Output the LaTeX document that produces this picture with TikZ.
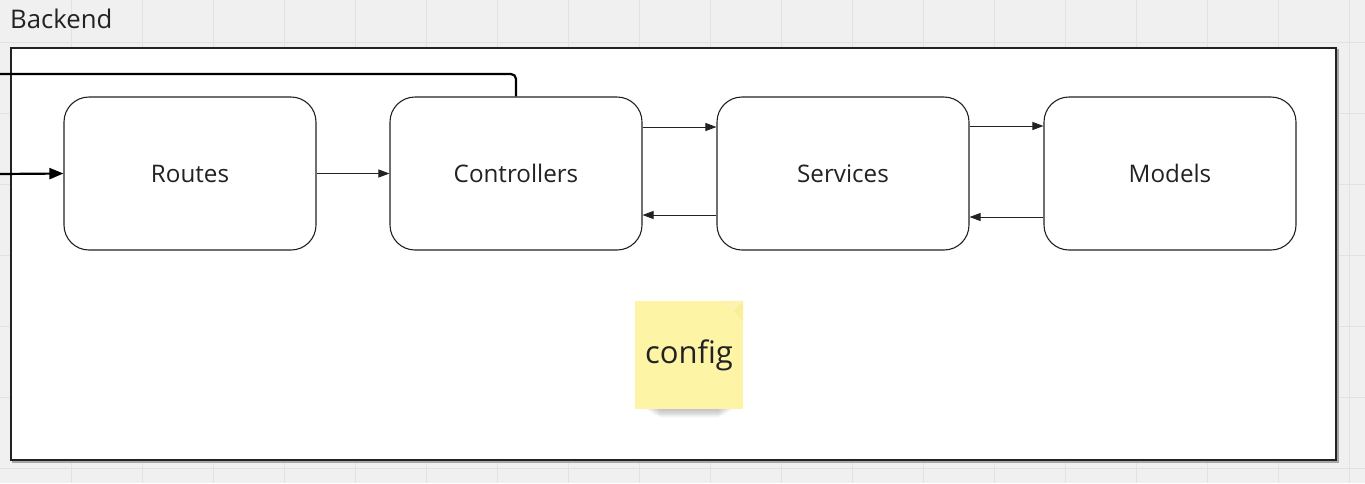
\documentclass[tikz,border=0pt]{standalone}
\usepackage{fontspec}
\setmainfont{Open Sans}
\usetikzlibrary{arrows.meta}
\definecolor{bgc}{HTML}{F0F0F0}
\definecolor{gridc}{HTML}{E2E2E2}
\definecolor{ink}{HTML}{222222}
\definecolor{sticky}{HTML}{FDF4A6}
\definecolor{stickyfold}{HTML}{FAEE98}
\tikzset{
  comp/.style={draw=ink, line width=1.1pt, fill=white, rounded corners=25pt,
    minimum width=252pt, minimum height=153pt, inner sep=0pt,
    font=\fontsize{24.2}{28}\selectfont, text=ink},
  arr/.style={draw=ink, line width=0.9pt, -{Triangle[length=11pt,width=8pt]}},
  thick line/.style={draw=black, line width=2.2pt},
  thickarr/.style={thick line, -{Triangle[length=14pt,width=11pt]}},
}
\begin{document}
\begin{tikzpicture}[x=1pt,y=-1pt]
\useasboundingbox (0,0) rectangle (1365,483);
\fill[bgc] (0,0) rectangle (1365,483);
\foreach \k in {1,...,19} \draw[gridc, line width=1pt] (71*\k,0) -- (71*\k,483);
\foreach \k in {0,...,6} \draw[gridc, line width=1pt] (0,42+71*\k) -- (1365,42+71*\k);
% title
\node[anchor=base west, inner sep=0pt, text=ink, font=\fontsize{25.7}{30}\selectfont] (title) at (10,28) {Backend};
% frame with slight shadow
\draw[gray!70, line width=1.5pt] (13,50) rectangle (1338,462);
\draw[ink, line width=1.5pt, fill=white] (11,48) rectangle (1336,460);
% components
\node[comp] (routes) at (190,173.5) {Routes};
\node[comp] (ctrl) at (516,173.5) {Controllers};
\node[comp] (serv) at (843,173.5) {Services};
\node[comp] (models) at (1170,173.5) {Models};
% connectors
\draw[arr] (routes.east) -- (ctrl.west);
\draw[arr] ([yshift=46.5pt]ctrl.east) -- ([yshift=46.5pt]serv.west);
\draw[arr] ([yshift=-41.5pt]serv.west) -- ([yshift=-41.5pt]ctrl.east);
\draw[arr] ([yshift=47.5pt]serv.east) -- ([yshift=47.5pt]models.west);
\draw[arr] ([yshift=-43.5pt]models.west) -- ([yshift=-43.5pt]serv.east);
% thick external lines
\coordinate (inA) at (0,174);
\coordinate (inB) at (0,74);
\draw[thickarr] (inA) -- (routes.west);
\draw[thick line, rounded corners=5pt] (inB) -- (ctrl.north |- inB) -- (ctrl.north);
% sticky note shadow (soft)
\foreach \i in {0,...,9} {
  \fill[black, opacity=0.025] (646+\i*1.5,406) rectangle (732-\i*1.5,410+\i*0.9);
}
% sticky note
\node[fill=sticky, minimum width=108pt, minimum height=108pt, inner sep=0pt,
  text=ink, font=\fontsize{31}{36}\selectfont] (config) at (689,355) {config};
\fill[stickyfold] (config.north east) -- ++(-20,0) -- ++(20,20) -- cycle;
\fill[sticky!60!white, opacity=0.5] (config.north east) -- ++(-20,0) -- ++(10,10) -- cycle;
\end{tikzpicture}
\end{document}
